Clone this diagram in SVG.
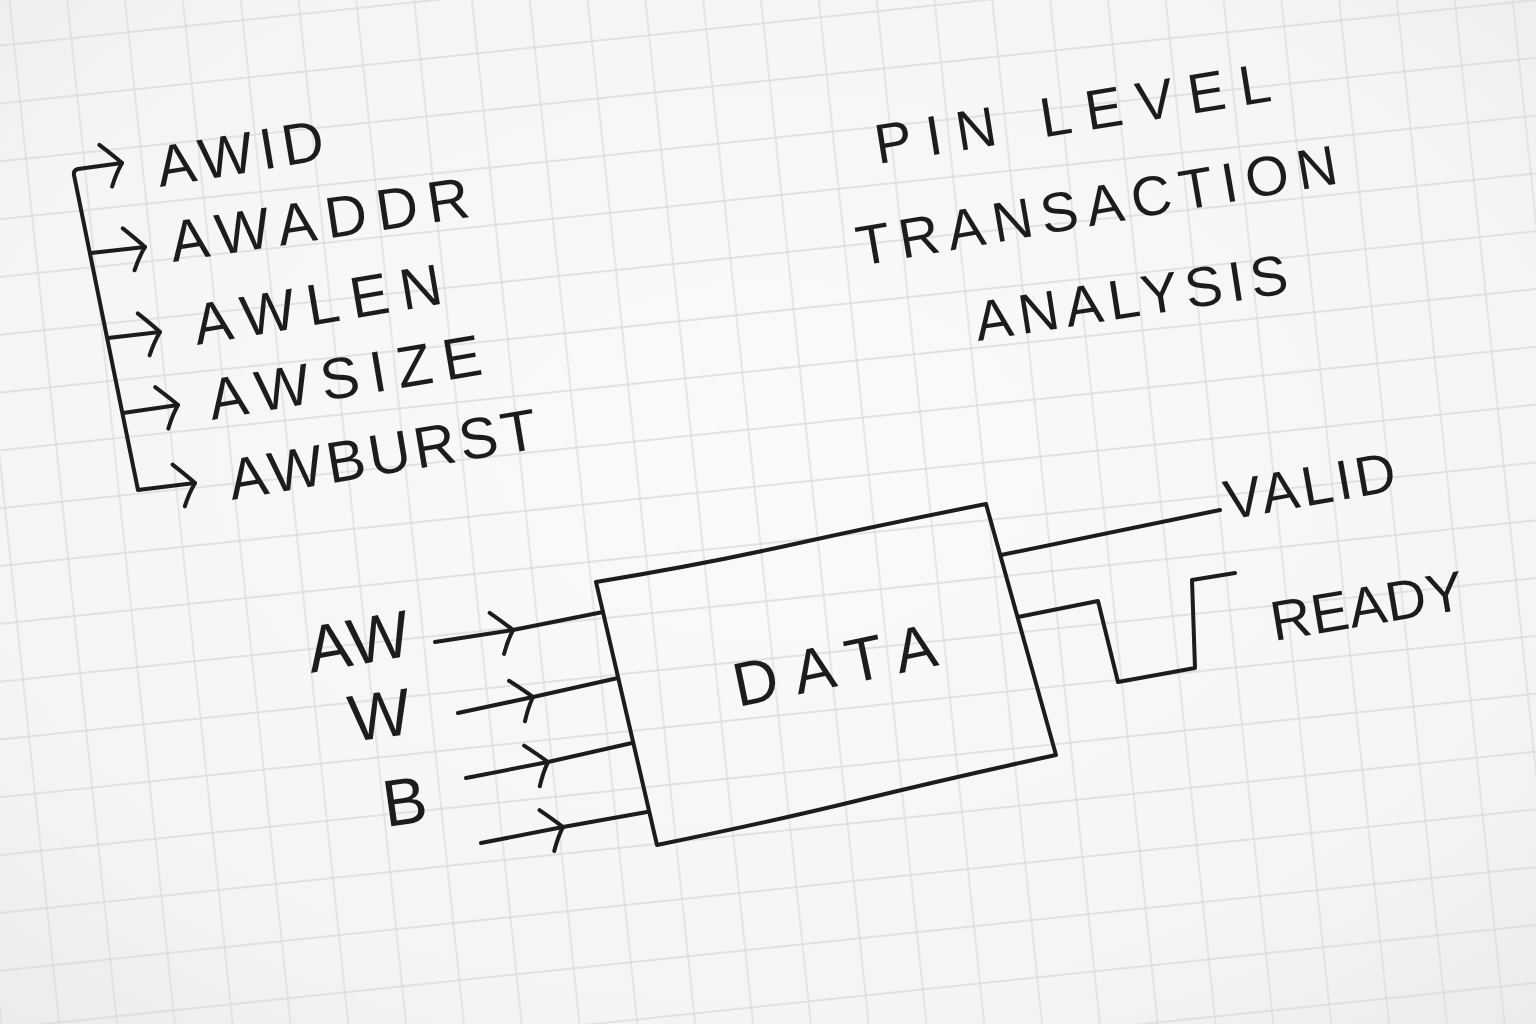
<svg xmlns="http://www.w3.org/2000/svg" width="1536" height="1024" viewBox="0 0 1536 1024">
<defs>
  <radialGradient id="paper" cx="50%" cy="45%" r="75%">
    <stop offset="0" stop-color="#fafafa"/>
    <stop offset="0.7" stop-color="#f5f5f5"/>
    <stop offset="1" stop-color="#ebebeb"/>
  </radialGradient>
  <pattern id="grid" patternUnits="userSpaceOnUse" width="57.5" height="57.5" x="-19.4" y="16.7" patternTransform="rotate(-6)">
    <path d="M28.75 0 V57.5 M0 28.75 H57.5" fill="none" stroke="#dadada" stroke-width="1.3"/>
  </pattern>
  <marker id="arrow" markerUnits="userSpaceOnUse" viewBox="-30 -26 36 52" refX="0" refY="0" markerWidth="36" markerHeight="52" orient="auto-start-reverse" overflow="visible">
    <path d="M-20,-21 Q-8,-9 0,0 Q-7,9 -13,22" fill="none" stroke="#1c1c1c" stroke-width="4" stroke-linecap="round" stroke-linejoin="round"/>
  </marker>
</defs>
<style>
  .ink { fill: none; stroke: #1c1c1c; stroke-width: 4; stroke-linecap: round; stroke-linejoin: round; }
  .hand { font-family: "Liberation Sans", Arial, sans-serif; fill: #1c1c1c; }
</style>

<rect width="1536" height="1024" fill="url(#paper)"/>
<rect width="1536" height="1024" fill="url(#grid)"/>

<g id="signal-list">
  <text class="hand" font-size="58" x="160" y="187" textLength="169" lengthAdjust="spacing" transform="rotate(-9.5 160 187)">AWID</text>
  <text class="hand" font-size="58" x="173" y="262" textLength="302" lengthAdjust="spacing" transform="rotate(-8.6 173 262)">AWADDR</text>
  <text class="hand" font-size="58" x="197" y="345" textLength="251" lengthAdjust="spacing" transform="rotate(-9.6 197 345)">AWLEN</text>
  <text class="hand" font-size="58" x="212" y="420" textLength="276" lengthAdjust="spacing" transform="rotate(-9.6 212 420)">AWSIZE</text>
  <text class="hand" font-size="58" x="232" y="500" textLength="312" lengthAdjust="spacing" transform="rotate(-9.6 232 500)">AWBURST</text>
</g>

<g id="title">
  <text class="hand" font-size="56" x="878" y="164" textLength="400" lengthAdjust="spacing" transform="rotate(-9.1 878 164)">PIN LEVEL</text>
  <text class="hand" font-size="56" x="860" y="266" textLength="487" lengthAdjust="spacing" transform="rotate(-9.8 860 266)">TRANSACTION</text>
  <text class="hand" font-size="56" x="978" y="341" textLength="316" lengthAdjust="spacing" transform="rotate(-8.8 978 341)">ANALYSIS</text>
</g>

<g id="data-block">
  <path class="ink" d="M596,582 Q700,565 790,545 T986,504 L1056,755 Q950,778 860,800 T657,845 Z"/>
  <text class="hand" font-size="62" x="738" y="707" textLength="206" lengthAdjust="spacing" transform="rotate(-11.7 738 707)">DATA</text>
</g>

<g id="input-labels">
  <text class="hand" font-size="66" x="311" y="673" textLength="104" lengthAdjust="spacing" transform="rotate(-10 311 673)">AW</text>
  <text class="hand" font-size="66" x="352" y="742" transform="rotate(-8 352 742)">W</text>
  <text class="hand" font-size="66" x="386" y="827" transform="rotate(-8 386 827)">B</text>
</g>

<g id="output-labels">
  <text class="hand" font-size="56" x="1228" y="520" textLength="173" lengthAdjust="spacing" transform="rotate(-10 1228 520)">VALID</text>
  <text class="hand" font-size="56" x="1274" y="641" textLength="195" lengthAdjust="spacing" transform="rotate(-9.5 1274 641)">READY</text>
</g>

<g id="connectors">
  <path class="ink" d="M122,163 L78,169 Q73,170 74,175 L138,490 L195,483" marker-start="url(#arrow)" marker-end="url(#arrow)"/>
  <path class="ink" d="M91,253 L145,247" marker-end="url(#arrow)"/>
  <path class="ink" d="M108,338 L160,332" marker-end="url(#arrow)"/>
  <path class="ink" d="M123,413 L178,405" marker-end="url(#arrow)"/>

  <path class="ink" d="M435,642 L513,630 L603,612" marker-mid="url(#arrow)"/>
  <path class="ink" d="M458,713 L533,697 L618,678" marker-mid="url(#arrow)"/>
  <path class="ink" d="M466,778 L548,762 L632,743" marker-mid="url(#arrow)"/>
  <path class="ink" d="M481,843 L563,827 L647,812" marker-mid="url(#arrow)"/>

  <path class="ink" d="M1001,555 L1220,510"/>
  <path class="ink" d="M1018,617 L1098,601 L1118,682 L1195,668 L1192,580 L1235,573"/>
</g>
</svg>
